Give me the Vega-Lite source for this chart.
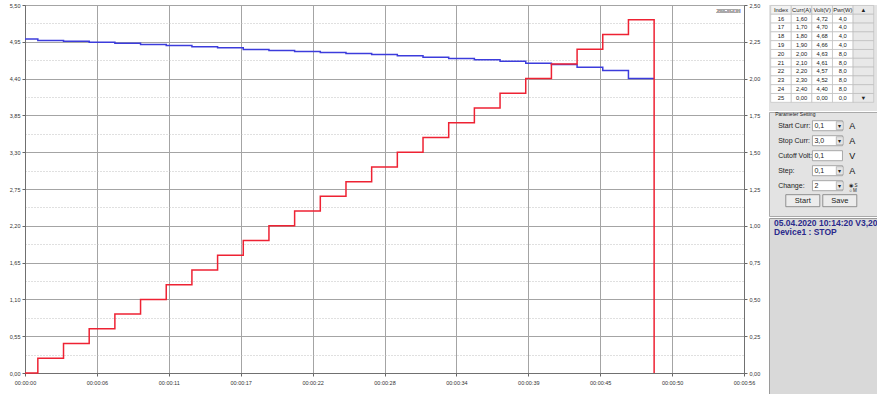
{
  "$schema": "https://vega.github.io/schema/vega-lite/v6.json",
  "background": "#ffffff",
  "padding": {"top": 2, "left": 0, "right": 0, "bottom": 0},
  "spacing": 3,
  "datasets": {
    "series": [
      {"t": 0, "I": 0, "V": 4.99},
      {"t": 1, "I": 0.1, "V": 4.97},
      {"t": 3, "I": 0.2, "V": 4.96},
      {"t": 5, "I": 0.3, "V": 4.945},
      {"t": 7, "I": 0.4, "V": 4.93},
      {"t": 9, "I": 0.5, "V": 4.91},
      {"t": 11, "I": 0.6, "V": 4.895},
      {"t": 13, "I": 0.7, "V": 4.875},
      {"t": 15, "I": 0.8, "V": 4.86},
      {"t": 17, "I": 0.9, "V": 4.835},
      {"t": 19, "I": 1.0, "V": 4.82},
      {"t": 21, "I": 1.1, "V": 4.805},
      {"t": 23, "I": 1.2, "V": 4.79},
      {"t": 25, "I": 1.3, "V": 4.775},
      {"t": 27, "I": 1.4, "V": 4.76},
      {"t": 29, "I": 1.5, "V": 4.74},
      {"t": 31, "I": 1.6, "V": 4.72},
      {"t": 33, "I": 1.7, "V": 4.70},
      {"t": 35, "I": 1.8, "V": 4.68},
      {"t": 37, "I": 1.9, "V": 4.66},
      {"t": 39, "I": 2.0, "V": 4.63},
      {"t": 41, "I": 2.1, "V": 4.61},
      {"t": 43, "I": 2.2, "V": 4.57},
      {"t": 45, "I": 2.3, "V": 4.52},
      {"t": 47, "I": 2.4, "V": 4.40},
      {"t": 49, "I": 0, "V": 4.40}
    ],
    "table": [
      {"row": "h", "idx": "Index", "cur": "Curr(A)", "volt": "Volt(V)", "pwr": "Pwr(W)", "sb": "▲"},
      {"row": "16", "idx": "16", "cur": "1,60", "volt": "4,72", "pwr": "4,0", "sb": ""},
      {"row": "17", "idx": "17", "cur": "1,70", "volt": "4,70", "pwr": "4,0", "sb": ""},
      {"row": "18", "idx": "18", "cur": "1,80", "volt": "4,68", "pwr": "4,0", "sb": ""},
      {"row": "19", "idx": "19", "cur": "1,90", "volt": "4,66", "pwr": "4,0", "sb": ""},
      {"row": "20", "idx": "20", "cur": "2,00", "volt": "4,63", "pwr": "8,0", "sb": ""},
      {"row": "21", "idx": "21", "cur": "2,10", "volt": "4,61", "pwr": "8,0", "sb": ""},
      {"row": "22", "idx": "22", "cur": "2,20", "volt": "4,57", "pwr": "8,0", "sb": ""},
      {"row": "23", "idx": "23", "cur": "2,30", "volt": "4,52", "pwr": "8,0", "sb": ""},
      {"row": "24", "idx": "24", "cur": "2,40", "volt": "4,40", "pwr": "8,0", "sb": ""},
      {"row": "25", "idx": "25", "cur": "0,00", "volt": "0,00", "pwr": "0,0", "sb": "▼"}
    ],
    "params": [
      {"k": "Start Curr:", "v": "0,1", "u": "A", "dd": true},
      {"k": "Stop Curr:", "v": "3,0", "u": "A", "dd": true},
      {"k": "Cutoff Volt:", "v": "0,1", "u": "V", "dd": false},
      {"k": "Step:", "v": "0,1", "u": "A", "dd": true},
      {"k": "Change:", "v": "2", "u": "", "dd": true}
    ],
    "buttons": [
      {"b": "Start", "pos": "start"},
      {"b": "Save", "pos": "save"}
    ],
    "status": [
      {"text": "05.04.2020 10:14:20  V3,20\nDevice1 : STOP"}
    ]
  },
  "hconcat": [
    {
      "width": 719,
      "height": 368,
      "view": {"stroke": "#a4a4a4", "fill": "#ffffff"},
      "data": {"name": "series"},
      "layer": [
        {
          "mark": {"type": "line", "interpolate": "step-after", "color": "#3c3cdc", "strokeWidth": 1.5},
          "encoding": {
            "x": {
              "field": "t", "type": "quantitative",
              "scale": {"domain": [0, 56], "nice": false, "zero": false},
              "axis": {
                "title": null,
                "values": [0, 2.8, 5.6, 8.4, 11.2, 14, 16.8, 19.6, 22.4, 25.2, 28, 30.8, 33.6, 36.4, 39.2, 42, 44.8, 47.6, 50.4, 53.2, 56],
                "labelExpr": "round(datum.value/2.8) % 2 == 0 ? '00:00:' + format(round(datum.value), '02d') : ''",
                "labelOverlap": false,
                "labelFlush": false,
                "labelFontSize": 5.5,
                "labelColor": "#333333",
                "labelPadding": 4,
                "tickSize": 3,
                "tickColor": "#666666",
                "tickOpacity": {"condition": {"test": "round(datum.value/2.8) % 2 == 1", "value": 0}, "value": 1},
                "domainColor": "#707070",
                "grid": true,
                "gridColor": {"condition": {"test": "round(datum.value/2.8) % 2 == 1", "value": "#c0c0c0"}, "value": "#a4a4a4"},
                "gridDash": {"condition": {"test": "round(datum.value/2.8) % 2 == 1", "value": [1, 2]}, "value": []}
              }
            },
            "y": {
              "field": "V", "type": "quantitative",
              "scale": {"domain": [0, 5.5], "nice": false, "zero": false},
              "axis": {
                "title": null,
                "orient": "left",
                "values": [0, 0.275, 0.55, 0.825, 1.1, 1.375, 1.65, 1.925, 2.2, 2.475, 2.75, 3.025, 3.3, 3.575, 3.85, 4.125, 4.4, 4.675, 4.95, 5.225, 5.5],
                "labelExpr": "round(datum.value/0.275) % 2 == 0 ? replace(format(datum.value, '.2f'), '.', ',') : ''",
                "labelOverlap": false,
                "labelFlush": false,
                "labelFontSize": 5.5,
                "labelColor": "#333333",
                "labelPadding": 2,
                "tickSize": 3,
                "tickColor": "#666666",
                "tickOpacity": {"condition": {"test": "round(datum.value/0.275) % 2 == 1", "value": 0}, "value": 1},
                "domainColor": "#707070",
                "grid": true,
                "gridColor": {"condition": {"test": "round(datum.value/0.275) % 2 == 1", "value": "#c0c0c0"}, "value": "#a4a4a4"},
                "gridDash": {"condition": {"test": "round(datum.value/0.275) % 2 == 1", "value": [1, 2]}, "value": []},
                "minExtent": 24,
                "maxExtent": 24
              }
            }
          }
        },
        {
          "mark": {"type": "line", "interpolate": "step-after", "color": "#ee2233", "strokeWidth": 1.5},
          "encoding": {
            "x": {"field": "t", "type": "quantitative"},
            "y": {
              "field": "I", "type": "quantitative",
              "scale": {"domain": [0, 2.5], "nice": false, "zero": false},
              "axis": {
                "title": null,
                "orient": "right",
                "values": [0, 0.25, 0.5, 0.75, 1, 1.25, 1.5, 1.75, 2, 2.25, 2.5],
                "labelExpr": "replace(format(datum.value, '.2f'), '.', ',')",
                "labelOverlap": false,
                "labelFlush": false,
                "labelFontSize": 5.5,
                "labelColor": "#333333",
                "labelPadding": 2,
                "tickSize": 3,
                "tickColor": "#666666",
                "domainColor": "#707070",
                "grid": false,
                "minExtent": 20,
                "maxExtent": 20
              }
            }
          }
        },
        {
          "mark": {"type": "text", "text": "ZKETECH", "align": "right", "baseline": "middle", "fontSize": 5, "color": "#a8a8a8"},
          "encoding": {
            "x": {"datum": 55.7, "type": "quantitative"},
            "y": {"datum": 5.41, "type": "quantitative", "scale": {"domain": [0, 5.5], "nice": false}, "axis": null}
          }
        }
      ],
      "resolve": {"scale": {"y": "independent"}, "axis": {"y": "independent"}}
    },
    {
      "spacing": 0,
      "vconcat": [
        {
          "width": 111,
          "height": 106,
          "view": {"fill": "#e3e3e3", "stroke": null},
          "data": {"name": "table"},
          "transform": [{"fold": ["idx", "cur", "volt", "pwr", "sb"], "as": ["col", "val"]}],
          "encoding": {
            "x": {"field": "col", "type": "nominal", "axis": null,
                  "scale": {"domain": ["idx", "cur", "volt", "pwr", "sb"], "paddingInner": 0, "paddingOuter": 0.194, "align": 0.21}},
            "y": {"field": "row", "type": "nominal", "axis": null,
                  "scale": {"domain": ["h", "16", "17", "18", "19", "20", "21", "22", "23", "24", "25"], "paddingInner": 0, "paddingOuter": 0.52, "align": 0.05}}
          },
          "layer": [
            {
              "mark": {"type": "rect", "stroke": "#b8b8b8", "strokeWidth": 0.6},
              "encoding": {
                "fill": {"condition": [{"test": "datum.col == 'sb'", "value": "#e8e8e8"}, {"test": "datum.row == 'h'", "value": "#f2f2f2"}], "value": "#ffffff"}
              }
            },
            {
              "mark": {"type": "text", "fontSize": 5.8, "color": "#222222", "baseline": "middle"},
              "encoding": {"text": {"field": "val", "type": "nominal"}}
            }
          ]
        },
        {
          "width": 111,
          "height": 104,
          "view": {"fill": "#e3e3e3", "stroke": "#a9a9a9"},
          "layer": [
            {
              "data": {"name": "params"},
              "mark": {"type": "text", "align": "left", "baseline": "middle", "fontSize": 7, "color": "#222222"},
              "encoding": {
                "x": {"datum": "label", "type": "nominal", "axis": null,
                      "scale": {"type": "point", "domain": ["label", "p1", "start", "p3", "box", "save", "unit", "p7"], "padding": 1, "align": 0.37}},
                "y": {"field": "k", "type": "nominal", "axis": null,
                      "scale": {"type": "point", "domain": ["Start Curr:", "Stop Curr:", "Cutoff Volt:", "Step:", "Change:", "buttons"], "padding": 0.967, "align": 0.472}},
                "text": {"field": "k", "type": "nominal"}
              }
            },
            {
              "data": {"name": "params"},
              "transform": [{"filter": "datum.k == 'Start Curr:'"}],
              "mark": {"type": "text", "text": "Parameter Setting", "align": "left", "baseline": "middle", "fontSize": 5, "color": "#222222", "dx": -3, "dy": -11.7},
              "encoding": {
                "x": {"datum": "label", "type": "nominal"},
                "y": {"field": "k", "type": "nominal"}
              }
            },
            {
              "data": {"name": "params"},
              "mark": {"type": "rect", "width": 30, "height": 10, "fill": "#ffffff", "stroke": "#8a8a8a", "strokeWidth": 0.7},
              "encoding": {
                "x": {"datum": "box", "type": "nominal"},
                "y": {"field": "k", "type": "nominal"}
              }
            },
            {
              "data": {"name": "params"},
              "mark": {"type": "text", "align": "left", "baseline": "middle", "fontSize": 7, "color": "#222222", "dx": -13},
              "encoding": {
                "x": {"datum": "box", "type": "nominal"},
                "y": {"field": "k", "type": "nominal"},
                "text": {"field": "v", "type": "nominal"}
              }
            },
            {
              "data": {"name": "params"},
              "transform": [{"filter": "datum.dd"}],
              "mark": {"type": "rect", "width": 7, "height": 8, "fill": "#e4e4e4", "stroke": "#9a9a9a", "strokeWidth": 0.6},
              "encoding": {
                "x": {"datum": "save", "type": "nominal"},
                "y": {"field": "k", "type": "nominal"}
              }
            },
            {
              "data": {"name": "params"},
              "transform": [{"filter": "datum.dd"}],
              "mark": {"type": "text", "text": "▾", "baseline": "middle", "fontSize": 6, "color": "#222222"},
              "encoding": {
                "x": {"datum": "save", "type": "nominal"},
                "y": {"field": "k", "type": "nominal"}
              }
            },
            {
              "data": {"name": "params"},
              "mark": {"type": "text", "baseline": "middle", "fontSize": 9, "color": "#111111"},
              "encoding": {
                "x": {"datum": "unit", "type": "nominal"},
                "y": {"field": "k", "type": "nominal"},
                "text": {"field": "u", "type": "nominal"}
              }
            },
            {
              "data": {"name": "params"},
              "transform": [{"filter": "datum.k == 'Change:'"}],
              "mark": {"type": "text", "text": "◉ S\n○ M", "lineBreak": "\n", "align": "left", "baseline": "middle", "fontSize": 4.5, "lineHeight": 5.5, "color": "#222222", "dx": -3},
              "encoding": {
                "x": {"datum": "unit", "type": "nominal"},
                "y": {"field": "k", "type": "nominal"}
              }
            },
            {
              "data": {"name": "buttons"},
              "mark": {"type": "rect", "width": 34, "height": 12, "fill": "#ececec", "stroke": "#7a7a7a", "strokeWidth": 0.8},
              "encoding": {
                "x": {"field": "pos", "type": "nominal"},
                "y": {"datum": "buttons", "type": "nominal"}
              }
            },
            {
              "data": {"name": "buttons"},
              "mark": {"type": "text", "baseline": "middle", "fontSize": 7.5, "color": "#222222"},
              "encoding": {
                "x": {"field": "pos", "type": "nominal"},
                "y": {"datum": "buttons", "type": "nominal"},
                "text": {"field": "b", "type": "nominal"}
              }
            }
          ]
        },
        {
          "width": 111,
          "height": 182,
          "view": {"fill": "#d9d9d9", "stroke": "#9a9a9a"},
          "data": {"name": "status"},
          "mark": {"type": "text", "align": "left", "baseline": "top", "lineBreak": "\n", "lineHeight": 8.7, "fontSize": 8.5, "fontWeight": "bold", "color": "#2a2a8c", "limit": 106, "ellipsis": ""},
          "encoding": {
            "x": {"datum": "a", "type": "nominal", "axis": null, "scale": {"type": "point", "domain": ["a"], "padding": 0, "align": 0.045}},
            "y": {"datum": "a", "type": "nominal", "axis": null, "scale": {"type": "point", "domain": ["a"], "padding": 0, "align": 0.008}},
            "text": {"field": "text", "type": "nominal"}
          }
        }
      ]
    }
  ],
  "config": {
    "font": "Liberation Sans",
    "view": {"stroke": null},
    "axis": {"labelFont": "Liberation Sans"},
    "text": {"font": "Liberation Sans"}
  }
}
